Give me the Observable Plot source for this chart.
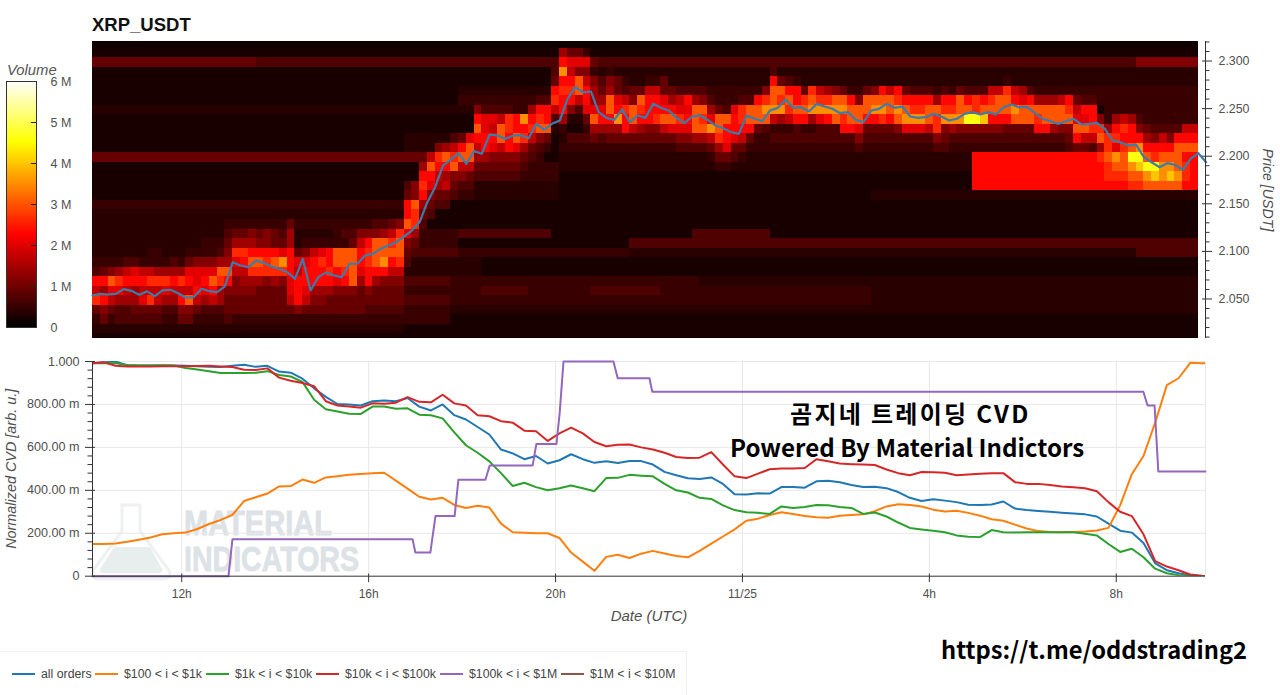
<!DOCTYPE html>
<html><head><meta charset="utf-8">
<script src="https://cdn.jsdelivr.net/npm/d3@7"></script>
<script src="https://cdn.jsdelivr.net/npm/@observablehq/plot@0.6"></script>
<style>
html,body{margin:0;padding:0;background:#fff;width:1280px;height:695px;overflow:hidden;font-family:"Liberation Sans",Arial,sans-serif}
#page{position:relative;width:1280px;height:695px}
#page>*{position:absolute}
svg{background:transparent!important;overflow:visible}
.big{font-family:"Noto Sans CJK KR","Noto Sans",sans-serif;font-weight:700;color:#000;white-space:nowrap}
#legend{left:-1px;top:651px;width:688px;height:50px;border:1px solid #f0f0f0;box-sizing:border-box}
.lg{position:absolute;top:15px;font-size:12.3px;color:#444;white-space:nowrap;line-height:14px}
.ll{position:absolute;top:21px;width:23px;height:2px}
</style></head><body><div id="page">
<svg id="wm" width="380" height="90" style="left:90px;top:495px;z-index:0">
<path d="M32 10H50V36L78 74Q84 84 72 84H10Q-2 84 4 74L32 36Z" fill="none" stroke="#eef1f1" stroke-width="3"/>
<path d="M24 52H60L72 74Q74 78 68 78H14Q8 78 10 74Z" fill="#e8eeed"/>
<text x="94" y="40" textLength="148" lengthAdjust="spacingAndGlyphs" font-family="'Liberation Sans Narrow','Liberation Sans'" font-weight="700" font-size="35" fill="#dde2e6" stroke="#dde2e6" stroke-width=".8">MATERIAL</text>
<text x="94" y="76" textLength="175" lengthAdjust="spacingAndGlyphs" font-family="'Liberation Sans Narrow','Liberation Sans'" font-weight="700" font-size="35" fill="#dde2e6" stroke="#dde2e6" stroke-width=".8">INDICATORS</text>
</svg>
<div id="title" style="left:92px;top:14px;font-weight:700;font-size:18.5px;color:#111;line-height:22px">XRP_USDT</div>
<div style="left:7px;top:62px;font-style:italic;font-size:14.8px;color:#555;line-height:16px">Volume</div>
<div id="bar"></div><div id="top"></div><div id="bot" style="left:0;top:345px;z-index:1"></div>
<div class="big" style="left:790px;top:396px;font-size:24px;letter-spacing:2.3px;line-height:34px;z-index:2">곰지네 트레이딩 CVD</div>
<div class="big" style="left:730px;top:430px;font-size:24.1px;line-height:34px;z-index:2">Powered By Material Indictors</div>
<div class="big" style="left:941px;top:632px;font-size:23.7px;line-height:34px;z-index:2">https://t.me/oddstrading2</div>
<div id="legend"></div>
</div>
<script>
// ---- Chart values ----
const startHour = 10.09, endHour = 33.91;      // hours since 11/24 00:00 UTC
const timeTicks = [12,16,20,24,28,32];
const timeLabels = ["12h","16h","20h","11/25","4h","8h"];
const priceMajor = [2.05,2.10,2.15,2.20,2.25,2.30];
const priceMinor = [2.01,2.02,2.03,2.04,2.06,2.07,2.08,2.09,2.11,2.12,2.13,2.14,2.16,2.17,2.18,2.19,2.21,2.22,2.23,2.24,2.26,2.27,2.28,2.29,2.31,2.32];
const cvdMajor = [0,.2,.4,.6,.8,1];
const cvdMinor = [.04,.08,.12,.16,.24,.28,.32,.36,.44,.48,.52,.56,.64,.68,.72,.76,.84,.88,.92,.96];
const cvdLabels = ["0","200.00 m","400.00 m","600.00 m","800.00 m","1.000"];
const volumeTicks = [0,1,2,3,4,5,6];
const volumeLabels = ["0","1 M","2 M","3 M","4 M","5 M","6 M"];
const seriesNames = ["all orders","$100 < i < $1k","$1k < i < $10k","$10k < i < $100k","$100k < i < $1M","$1M < i < $10M"];
const seriesColors = ["#1f77b4","#ff7f0e","#2ca02c","#d62728","#9467bd","#8c564b"];

// price line, one value per 10 minutes
const priceLine = [2.0537,2.0554,2.0547,2.0554,2.0604,2.0586,2.0544,2.058,2.053,2.059,2.0597,2.056,2.0513,2.052,2.0607,2.0582,2.0572,2.0632,2.0887,2.0852,2.0835,2.0904,2.088,2.0842,2.0817,2.0782,2.0712,2.0922,2.0589,2.073,2.078,2.0747,2.0729,2.087,2.087,2.0957,2.0974,2.1027,2.1062,2.1097,2.1156,2.1219,2.1307,2.1517,2.1675,2.1902,2.1965,2.2032,2.192,2.2053,2.2025,2.2228,2.2217,2.2182,2.2217,2.2221,2.2189,2.234,2.2277,2.234,2.2375,2.2603,2.2725,2.267,2.268,2.2463,2.2403,2.2382,2.2491,2.2358,2.2428,2.2403,2.255,2.2508,2.248,2.2403,2.2347,2.2417,2.2428,2.2382,2.2322,2.2294,2.2252,2.2235,2.2428,2.2393,2.2368,2.248,2.2508,2.2596,2.2508,2.2515,2.247,2.255,2.2522,2.2498,2.2452,2.2463,2.2382,2.2358,2.248,2.2498,2.255,2.2508,2.2522,2.2417,2.2403,2.241,2.2445,2.2417,2.2375,2.2393,2.2445,2.2463,2.2438,2.2463,2.2438,2.2515,2.2543,2.2515,2.2515,2.2456,2.2393,2.2368,2.234,2.2368,2.2393,2.2333,2.234,2.235,2.2287,2.2165,2.2147,2.2112,2.2123,2.199,2.1937,2.1885,2.1927,2.191,2.1857,2.1973,2.2032,2.1937];

// CVD series in thousandths, one value per 15 minutes
const cvdAll = [992,996,1000,982,981,981,981,981,980,978,975,974,980,985,975,980,953,948,920,875,835,802,800,795,815,818,815,830,790,772,800,750,730,695,660,590,572,545,560,525,540,568,545,528,535,527,537,536,520,486,470,456,453,460,430,382,380,386,385,415,415,412,442,445,438,425,415,417,410,392,365,350,358,352,345,333,332,334,348,315,308,304,300,296,292,288,278,245,212,203,155,60,28,14,5,0,0];
const cvd100 = [150,150,152,160,170,180,195,200,203,220,243,262,285,350,368,385,418,420,450,435,460,466,472,476,480,482,445,408,370,357,365,332,318,328,320,245,205,202,200,200,178,110,68,25,90,100,85,105,118,106,94,88,118,152,185,218,258,268,285,298,290,280,275,272,282,285,288,303,325,335,332,325,310,301,305,295,282,265,258,240,222,210,206,205,206,208,213,225,330,475,560,715,890,922,994,992,992];
const cvd1k = [992,992,992,984,981,981,983,981,970,963,955,946,946,946,948,955,937,930,905,822,778,767,757,756,790,790,780,782,752,750,735,670,610,575,535,480,420,435,415,400,410,422,410,396,457,458,472,468,465,430,400,390,365,360,330,308,298,295,290,325,318,322,332,330,322,318,290,297,278,250,225,218,212,205,190,184,182,215,205,204,205,205,205,205,205,198,190,150,113,128,88,35,14,5,2,0,0];
const cvd10k = [992,996,980,977,977,977,978,978,978,979,980,977,974,962,960,968,925,910,900,885,815,795,790,785,805,803,808,834,812,810,845,805,795,750,745,722,715,678,675,630,665,692,665,625,605,612,613,600,590,575,555,551,552,578,520,465,457,478,498,502,502,504,545,535,525,522,520,518,497,480,470,485,484,482,470,474,477,480,480,438,430,430,425,418,414,410,396,345,300,280,195,70,45,28,8,2,0];
const cvd100kHours = [10.09,13.0,13.085,16.94,17.0,17.32,17.43,17.84,17.92,18.5,18.59,19.51,19.59,20.02,20.09,20.17,21.24,21.33,22.01,22.07,32.58,32.67,32.82,32.90,33.91];
const cvd100kValues = [0,0,172,172,110,110,280,280,449,449,516,516,616,616,764,1000,1000,922,922,859,859,795,795,488,488];

// Heat levels: index into levelVolumes (millions), one hex-like digit per cell
const levelVolumes = {0:.14,1:.22,2:.35,3:.5,4:.7,5:.9,6:1.15,7:1.4,8:1.7,9:2.0,a:2.3,b:2.6,c:3.0,d:3.5,e:4.0,f:4.6};
// background rows: [row, first column, end column, level]
const heatBands = [[0,0,142,0],[2,0,21,5],[2,21,134,4],[2,134,142,6],[3,60,142,2],[4,60,142,2],[7,0,60,2],[12,0,45,5],[17,0,40,3],[18,0,40,2],[20,47,59,4],[20,77,87,4],[21,69,142,4],[22,47,69,3],[22,69,134,2],[22,134,142,4],[25,43,78,3],[26,43,100,3],[26,50,56,4],[26,64,73,4],[26,100,142,2],[27,40,100,3],[27,100,142,2],[25,78,142,2],[8,130,142,3],[9,134,142,4],[10,60,130,4],[11,60,130,3],[12,60,113,2],[13,60,113,2],[12,113,142,"a"],[13,113,142,"a"],[14,113,142,"a"],[15,113,142,"a"],[16,100,142,2],[30,0,40,2],[28,40,142,2],
 [27,40,46,4],[28,40,46,3],[29,40,46,3],[23,40,50,2],[24,40,50,2],[25,40,46,4],[26,40,46,3],[22,40,47,4],[21,40,47,3],[20,40,47,3],[5,60,142,3],[6,60,142,3],[7,130,142,3],[4,60,142,2],[5,47,60,2],[6,47,60,3],[13,47,60,3],[14,47,60,3],[15,47,60,2],[16,40,60,2],[10,40,47,2],[11,40,47,2]];
// bright ridge, one entry per 10-minute column: "first row:levels downward"
const heatRidge = ["19:222234a8b53","19:222235a7a65","19:222236c9853","19:222237b9744","19:222248a8744","19:222249a7754","19:222238a8954","19:222338b8b54","19:222337b8854","19:222237b9743","19:222247a8743","19:222237b8a65","19:222359a8c65","19:2223699a853","19:223369a9743","19:223369ca843","19:22347cb7743","19:34567ca6554","19:357b9866553","19:357ba876553","19:367acb76553","19:356acb75553","19:366abb65553","19:355acb75553","19:3459db65553","19:577aaa99853","19:322598aaa63","19:32369aa9853","19:3238aaa7653","19:3239baa7653","19:323aaba7553","19:333cca96553","19:343ccba6553","19:345cccc6553","19:368aa975553","19:36abbaa6543","19:46ccca75543","19:47ccda65543","19:58bca865543","19:6bccb865543",
"15:45aac9654","15:66cbb754","13:7aba7543","12:8ca9654","11:6ba8754","11:7ca7854","10:48bc654","10:5ac8643","10:9cc8543","6:36aca8754","7:499aa754","7:498a9654","7:48cc8654","7:4bbaa654","7:3aac9654","7:3dab7543","7:7ab8543","6:4abc643","6:4aac53","3:45ab842","1:7adabaa732","1:598aba62","1:596cc842","1:3968aa953","2:536779c753","4:4579a74","3:367cca753","4:559ad753","4:348baa53","5:56cc853","5:5cba753","4:38aaa653","4:38aab653","4:559ac853","5:57ac953","5:489b964","5:4a9a964","5:47ccc74","5:46cbc74","6:479d853","7:5ccb753","7:4caa953","6:39aa954","6:4bba853","6:4cca53","5:3acc53","5:6bdc43","3:4accd83","4:5cbd73","4:4acb83","4:3aaca4","5:5bca3","5:bcd73","5:8bd94","5:7bda4","5:6cdc4","5:5cdba4","6:acca4","6:6cc964","5:5cca54","5:6cda54","5:acdb54","5:8cca54","5:abdc64","5:5acd94","5:4abd94","5:4abd94","5:4acc84","5:37cbb64","5:4abd654","5:3abd74","5:5ccd64","5:4acf64","5:4bbf64","5:4ace64","5:8bca64","5:8cca64","4:3bcca5","5:8adc54","5:79cc54","5:4acc54","5:37cba4","5:37cca4","5:37cc74","5:38cc64","5:3abc654","6:589ca5","6:4a9c85","6:4aab84","8:6bc7ba","9:7bbcbba","8:7ab9dcba","8:8babccba","8:7aacfdcb","8:46adfecb","9:57acfdc","10:6abfec","10:8acddc","10:6acdec","9:4acccdc","9:8acabba","9:8acaaaa"];

// ---- Assemble ----
const nRows = 32, nCols = 142;
const grid = d3.range(nRows).map(() => Array(nCols).fill(1));
for (const [r,a,b,l] of heatBands) for (let j=a;j<Math.min(b,nCols);j++) grid[r][j]=l;
heatRidge.forEach((s,j)=>{ if(j>=nCols) return; const [r,str]=s.split(":"); [...str].forEach((c,k)=>{ grid[+r+k][j]=c; }); });
const cells = [];
grid.forEach((row,r)=>row.forEach((l,j)=>cells.push({j,r,v:levelVolumes[l]})));
const hot = d3.scaleLinear().domain([0,2.25,4.5,6]).range(["#000000","#ff0000","#ffff00","#ffffff"]);
const px = 1/46.72;
const labelColor = "#4f4f4f", font = "Liberation Sans";

// Colour bar
const barSteps = d3.range(0,6,6/256);
document.getElementById("bar").appendChild(Plot.plot({
  width:90,height:340,marginLeft:6,marginRight:54,marginTop:81,marginBottom:13,
  style:{fontFamily:font,overflow:"visible"},
  x:{domain:[0,1],axis:null},y:{domain:[0,6],axis:null},color:{type:"identity"},
  marks:[
    Plot.rect(barSteps,{x1:0,x2:1,y1:d=>d,y2:d=>d+6/256+.005,fill:d=>hot(d),shapeRendering:"crispEdges"}),
    Plot.frame({stroke:"#333"}),
    Plot.ruleY(volumeTicks.slice(1,6),{x1:.83,x2:1,stroke:"#222"}),
    Plot.text(volumeTicks,{x:1,y:d=>d,text:(d,i)=>volumeLabels[i],textAnchor:"start",dx:14,fontSize:12.5,fill:labelColor})
  ]}));
document.querySelector("#bar").style.cssText="left:0;top:0";

// Heatmap with price line
document.getElementById("top").appendChild(Plot.plot({
  width:1280,height:345,marginLeft:92,marginRight:75,marginTop:41,marginBottom:7,
  style:{fontFamily:font,overflow:"visible",background:"transparent"},
  x:{domain:[startHour,endHour],axis:null},
  y:{domain:[2.0085,2.3205],axis:null},
  color:{type:"identity"},
  marks:[
    Plot.rect(cells,{x1:d=>startHour+d.j/6,x2:d=>startHour+(d.j+1)/6,y1:d=>2.32-d.r*.01-.0065,y2:d=>2.32-d.r*.01+.0035,fill:d=>hot(d.v),clip:true,shapeRendering:"crispEdges"}),
    Plot.line(priceLine,{x:(d,i)=>startHour+i/6,y:d=>d,stroke:"#3a7cab",strokeWidth:2.2}),
    Plot.ruleX([endHour],{stroke:"#333",strokeWidth:1}),
    Plot.ruleY(priceMinor,{x1:endHour,x2:endHour+4.5*px,stroke:"#333"}),
    Plot.ruleY(priceMajor,{x1:endHour-3*px,x2:endHour+7*px,stroke:"#333"}),
    Plot.text(priceMajor,{x:endHour,y:d=>d,text:d=>d.toFixed(3),textAnchor:"start",dx:13,fontSize:12.4,fill:labelColor}),
    Plot.text(["Price [USDT]"],{frameAnchor:"right",textAnchor:"middle",rotate:90,dx:62,fontStyle:"italic",fontSize:14.2,fill:labelColor})
  ]}));
document.querySelector("#top").style.cssText="left:0;top:0";
document.querySelectorAll("#top svg g[aria-label='rect']").forEach(g=>{g.style.filter="blur(0.55px)";});

// CVD panel
const hours15 = d3.range(97).map(i=>10.083+i*.25);
const ser = vals=>vals.map((v,i)=>({h:hours15[i],v:v/1000}));
const lineOpts = c=>({x:"h",y:"v",stroke:c,strokeWidth:2,clip:true});
const purple = cvd100kHours.map((h,i)=>({h,v:cvd100kValues[i]/1000}));
document.getElementById("bot").appendChild(Plot.plot({
  width:1280,height:290,marginLeft:92,marginRight:75,marginTop:16,marginBottom:59.3,
  style:{fontFamily:font,overflow:"visible",background:"transparent"},
  x:{domain:[startHour,endHour],axis:null},
  y:{domain:[0,1],axis:null},
  color:{type:"identity"},
  marks:[
    Plot.ruleY(cvdMajor.slice(1),{stroke:"#e8e8e8"}),
    Plot.ruleX(timeTicks,{stroke:"#e8e8e8"}),
    Plot.ruleX([endHour],{stroke:"#e8e8e8"}),
    Plot.line(ser(cvdAll),lineOpts(seriesColors[0])),
    Plot.line(ser(cvd100),lineOpts(seriesColors[1])),
    Plot.line(ser(cvd1k),lineOpts(seriesColors[2])),
    Plot.line(ser(cvd10k),lineOpts(seriesColors[3])),
    Plot.line(purple,{x:"h",y:"v",stroke:seriesColors[4],strokeWidth:2}),
    Plot.ruleY([0],{stroke:"#333",strokeWidth:1}),
    Plot.ruleX([startHour],{stroke:"#333",strokeWidth:1}),
    Plot.ruleY(cvdMinor,{x1:startHour-4.5*px,x2:startHour,stroke:"#333"}),
    Plot.ruleY(cvdMajor,{x1:startHour-7*px,x2:startHour+3*px,stroke:"#333"}),
    Plot.ruleX(timeTicks,{y1:.01,y2:-.03,stroke:"#333"}),
    Plot.text(cvdMajor,{x:startHour,y:d=>d,text:(d,i)=>cvdLabels[i],textAnchor:"end",dx:-13,fontSize:12.6,fill:labelColor}),
    Plot.text(timeTicks,{x:d=>d,y:0,text:(d,i)=>timeLabels[i],dy:18,fontSize:12,fill:labelColor}),
    Plot.text(["Date (UTC)"],{frameAnchor:"bottom",dy:45,fontStyle:"italic",fontSize:15,fill:labelColor}),
    Plot.text(["Normalized CVD [arb. u.]"],{frameAnchor:"left",textAnchor:"middle",rotate:-90,dx:-81,fontStyle:"italic",fontSize:14.4,fill:labelColor})
  ]}));

// Legend
const lg = document.getElementById("legend");
const lineX = [12,95,206,316,440,561], textX=[41,124,235,345,469,590];
seriesNames.forEach((n,i)=>{
  const l=document.createElement("div");l.className="ll";l.style.left=lineX[i]+"px";l.style.background=seriesColors[i];lg.appendChild(l);
  const t=document.createElement("div");t.className="lg";t.style.left=textX[i]+"px";t.textContent=n;lg.appendChild(t);
});
</script></body></html>
